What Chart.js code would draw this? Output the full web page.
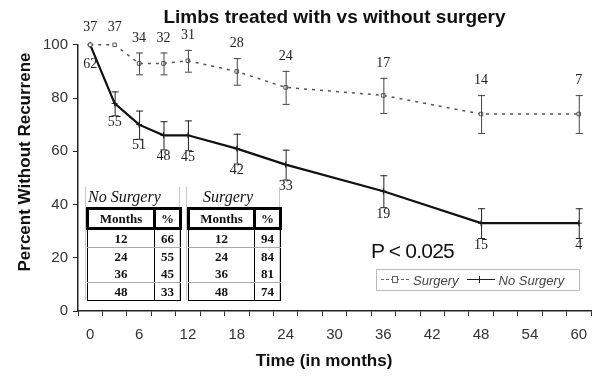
<!DOCTYPE html>
<html>
<head>
<meta charset="utf-8">
<script src="https://cdn.jsdelivr.net/npm/chart.js@4.4.0/dist/chart.umd.min.js"></script>
<style>
    body { margin: 0; background: #fff; }
    #wrap { position: relative; width: 601px; height: 377px; overflow: hidden; }
    #chart { position: absolute; left: 0; top: 0; }
    .tbox {
        position: absolute; top: 187px; height: 113px; box-sizing: border-box;
        border-left: 1px solid #c8c8c8; border-right: 1px solid #c8c8c8;
        font-family: "Liberation Serif", serif; color: #111;
    }
    .tbox .cap { font-style: italic; font-size: 16px; height: 20px; line-height: 20px; }
    .tbox table { border-collapse: collapse; table-layout: fixed; }
    .tbox th { border: 3px solid #000; height: 17px; padding: 0; font-size: 13px; font-weight: bold; }
    .tbox td { border-left: 1.5px solid #000; border-right: 1.5px solid #000; height: 17px; padding: 0;
        font-size: 13px; font-weight: bold; text-align: center; }
    .tbox tr.sep td { border-bottom: 1px solid #aaa; }
    .tbox tr.last td { border-bottom: 1.5px solid #000; }
    #pval { position: absolute; left: 371px; top: 239px; font: 21px "Liberation Sans", sans-serif;
        letter-spacing: -0.8px; color: #111; }
    #legend { position: absolute; left: 376px; top: 269px; width: 204px; height: 22px; box-sizing: border-box;
        border: 1px solid #bbb; display: flex; align-items: center; padding-left: 4px;
        font: italic 13px "Liberation Sans", sans-serif; color: #444; }
    .smp { position: relative; display: inline-block; width: 28px; height: 1px; margin-right: 4px; }
    .smp.dash { border-top: 1px dashed #666; }
    .smp.solid { border-top: 1.5px solid #222; margin-left: 8px; }
    .smp .sq { position: absolute; left: 11px; top: -4px; width: 4px; height: 5px; border: 1px solid #666; background: #fff; }
    .smp .pl { position: absolute; left: 12px; top: -4px; width: 1px; height: 7px; background: #222; }
</style>
</head>
<body>
<div id="wrap">
    <canvas id="chart" width="601" height="377"></canvas>
    <div id="pval">P &lt; 0.025</div>
    <div id="legend">
        <span class="smp dash"><span class="sq"></span></span><span>Surgery</span>
        <span class="smp solid"><span class="pl"></span></span><span>No Surgery</span>
    </div>
</div>
<script>
// Datos
const months = [0, 3, 6, 9, 12, 18, 24, 36, 48, 60];
const surgeryPct = [100, 100, 93, 93, 94, 90, 84, 81, 74, 74];
const surgeryErr = [0, 0, 4.1, 4.1, 4.1, 5, 6.2, 6.6, 7.1, 7.1];
const surgeryN = [37, 37, 34, 32, 31, 28, 24, 17, 14, 7];
const noSurgeryPct = [100, 78, 70, 66, 66, 61, 55, 45, 33, 33];
const noSurgeryErr = [0, 4.5, 5.3, 5.3, 5.6, 5.6, 5.6, 6, 5.6, 5.6];
const noSurgeryN = [62, 55, 51, 48, 45, 42, 33, 19, 15, 4];

// Tablas de resumen
const tableMonths = [12, 24, 36, 48];
const tableNoSurgery = [66, 55, 45, 33];
const tableSurgery = [94, 84, 81, 74];

const xLabelStep = 6;
const xTickStep = 3;

function buildTable(left, caption, capPad, colWidths, values) {
    const box = document.createElement('div');
    box.className = 'tbox';
    box.style.left = left + 'px';
    box.style.width = (colWidths[0] + colWidths[1] + 2) + 'px';
    let html = `<div class="cap" style="padding-left:${capPad}px">${caption}</div>`;
    html += `<table style="width:${colWidths[0] + colWidths[1]}px">
        <colgroup><col style="width:${colWidths[0]}px"><col style="width:${colWidths[1]}px"></colgroup>
        <thead><tr><th>Months</th><th>%</th></tr></thead><tbody>`;
    tableMonths.forEach((m, i) => {
        let cls = '';
        if (i === 0 || i === 2) cls = 'sep';
        if (i === tableMonths.length - 1) cls = 'last';
        html += `<tr class="${cls}"><td>${m}</td><td>${values[i]}</td></tr>`;
    });
    html += '</tbody></table>';
    box.innerHTML = html;
    document.getElementById('wrap').appendChild(box);
}

buildTable(85, 'No Surgery', 2, [67, 26], tableNoSurgery);
buildTable(186, 'Surgery', 16, [66, 26], tableSurgery);

// Barras de error y números en riesgo
const errorBarsPlugin = {
    id: 'errorBars',
    afterDatasetsDraw(chart) {
        const { ctx, scales: { x, y } } = chart;
        const series = [
            { pct: surgeryPct, err: surgeryErr, n: surgeryN, color: '#444', above: true },
            { pct: noSurgeryPct, err: noSurgeryErr, n: noSurgeryN, color: '#222', above: false }
        ];
        ctx.save();
        series.forEach(s => {
            months.forEach((m, i) => {
                const px = x.getPixelForValue(m);
                const top = y.getPixelForValue(s.pct[i] + s.err[i]);
                const bot = y.getPixelForValue(s.pct[i] - s.err[i]);
                if (s.err[i] > 0) {
                    ctx.strokeStyle = s.color;
                    ctx.lineWidth = 1;
                    ctx.beginPath();
                    ctx.moveTo(px + 0.5, top); ctx.lineTo(px + 0.5, bot);
                    ctx.moveTo(px - 3, top + 0.5); ctx.lineTo(px + 4, top + 0.5);
                    ctx.moveTo(px - 3, bot + 0.5); ctx.lineTo(px + 4, bot + 0.5);
                    ctx.stroke();
                }
                ctx.fillStyle = '#222';
                ctx.font = '14px "Liberation Serif", serif';
                ctx.textAlign = 'center';
                ctx.textBaseline = 'middle';
                let ly;
                if (s.above) ly = s.err[i] > 0 ? top - 14.5 : top - 17;
                else ly = s.err[i] > 0 ? bot + 7 : bot + 20;
                ctx.fillText(String(s.n[i]), px, ly);
            });
        });

        // Títulos de ejes
        ctx.fillStyle = '#111';
        ctx.font = 'bold 17px "Liberation Sans", sans-serif';
        ctx.textAlign = 'center';
        ctx.textBaseline = 'middle';
        ctx.fillText('Time (in months)', 324, 361);
        ctx.translate(25, 162);
        ctx.rotate(-Math.PI / 2);
        ctx.fillText('Percent Without Recurrene', 0, 0);
        ctx.restore();
    }
};

const ctx = document.getElementById('chart');
new Chart(ctx, {
    type: 'line',
    data: {
        datasets: [
            {
                label: 'Surgery',
                data: months.map((m, i) => ({ x: m, y: surgeryPct[i] })),
                borderColor: '#555',
                borderWidth: 1.5,
                borderDash: [3, 5],
                pointStyle: 'rect',
                pointRadius: 2.5,
                pointBorderColor: '#555',
                pointBackgroundColor: '#fff',
                pointBorderWidth: 1,
                tension: 0,
                clip: false
            },
            {
                label: 'No Surgery',
                data: months.map((m, i) => ({ x: m, y: noSurgeryPct[i] })),
                borderColor: '#111',
                borderWidth: 2.2,
                pointStyle: 'cross',
                pointRadius: 3,
                pointBorderColor: '#111',
                pointBorderWidth: 1,
                tension: 0,
                clip: false
            }
        ]
    },
    options: {
        responsive: false,
        animation: false,
        layout: { padding: 0 },
        plugins: {
            legend: { display: false },
            tooltip: { enabled: false },
            title: {
                display: true,
                fullSize: false,
                text: 'Limbs treated with vs without surgery',
                color: '#111',
                font: { family: '"Liberation Sans", sans-serif', size: 19, weight: 'bold' },
                padding: { top: 6, bottom: 16 }
            }
        },
        scales: {
            x: {
                type: 'linear',
                min: -1.5,
                max: 61.5,
                afterBuildTicks(scale) {
                    const ticks = [];
                    for (let v = -1.5; v <= 61.5; v += xTickStep / 2) ticks.push({ value: v });
                    scale.ticks = ticks;
                },
                afterFit(scale) { scale.height = 66; },
                ticks: {
                    autoSkip: false,
                    maxRotation: 0,
                    padding: 10,
                    color: '#333',
                    font: { family: '"Liberation Sans", sans-serif', size: 15 },
                    callback: (v) => (v >= 0 && v % xLabelStep === 0) ? String(v) : ''
                },
                grid: {
                    drawOnChartArea: false,
                    tickLength: 5,
                    lineWidth: 1,
                    tickColor: (c) => (c.tick && (c.tick.value + 1.5) % xTickStep === 0) ? '#333' : 'rgba(0,0,0,0)'
                },
                border: { display: true, color: '#222', width: 1.5 }
            },
            y: {
                min: 0,
                max: 100,
                afterFit(scale) { scale.width = 78; },
                ticks: {
                    stepSize: 20,
                    padding: 5,
                    color: '#333',
                    font: { family: '"Liberation Sans", sans-serif', size: 15 }
                },
                grid: { drawOnChartArea: false, tickLength: 5, tickColor: '#222' },
                border: { display: true, color: '#222', width: 1.5 }
            }
        }
    },
    plugins: [errorBarsPlugin]
});
</script>
</body>
</html>
